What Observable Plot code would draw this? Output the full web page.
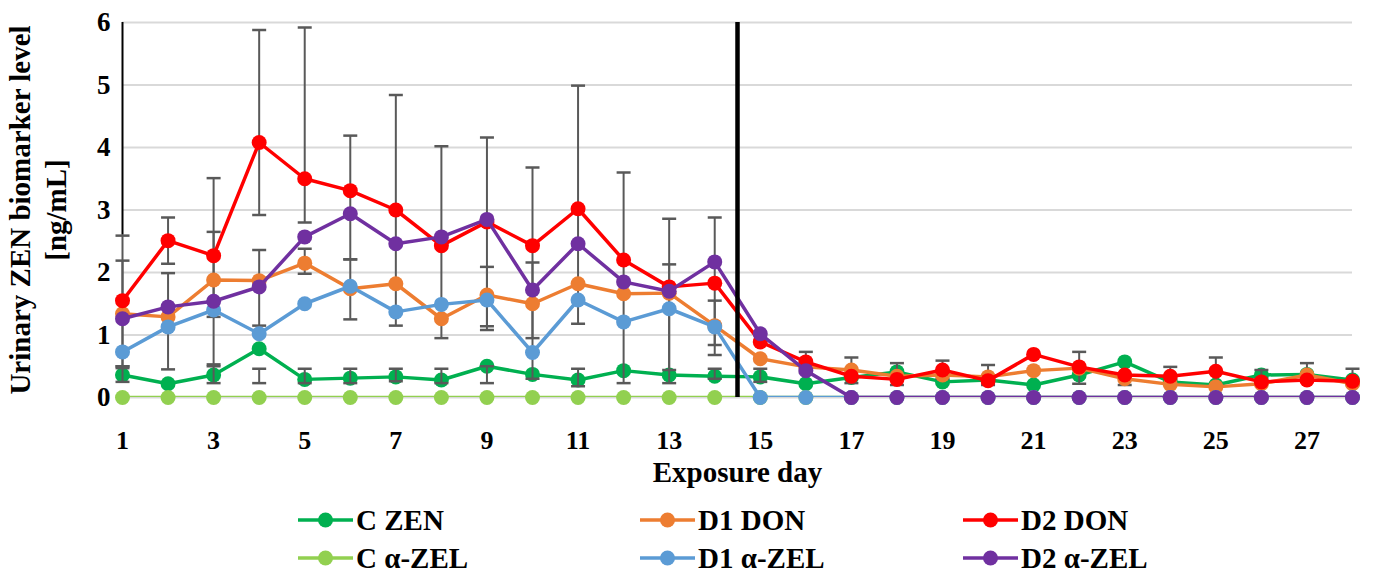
<!DOCTYPE html>
<html>
<head>
<meta charset="utf-8">
<script src="https://cdn.jsdelivr.net/npm/d3@7"></script>
<script src="https://cdn.jsdelivr.net/npm/@observablehq/plot@0.6"></script>
<style>
  body { margin: 0; background: #fff; }
  #wrap { position: relative; width: 1376px; height: 572px; overflow: hidden; font-family: "Liberation Serif", serif; }
  #chart { position: absolute; left: 0; top: 0; }
  .item { position: absolute; display: flex; align-items: center; height: 34px; font-weight: bold; font-size: 29px; color: #000; white-space: nowrap; }
  .item svg { margin-right: 3px; }
</style>
</head>
<body>
<div id="wrap"><div id="chart"></div><div id="legend"></div></div>
<script>
// ---- data ----
const days = [1,2,3,4,5,6,7,8,9,10,11,12,13,14,15,16,17,18,19,20,21,22,23,24,25,26,27,28];
const cZEN    = [0.36,0.22,0.36,0.78,0.29,0.31,0.33,0.28,0.50,0.37,0.28,0.43,0.36,0.34,0.33,0.22,0.32,0.41,0.25,0.28,0.20,0.36,0.57,0.25,0.20,0.36,0.37,0.28];
const d1DON   = [1.34,1.29,1.88,1.87,2.15,1.74,1.82,1.26,1.64,1.50,1.82,1.66,1.67,1.15,0.62,0.49,0.44,0.34,0.36,0.33,0.43,0.47,0.30,0.21,0.17,0.22,0.36,0.22];
const d2DON   = [1.55,2.51,2.27,4.08,3.50,3.31,3.00,2.43,2.81,2.43,3.02,2.20,1.77,1.83,0.89,0.57,0.34,0.29,0.44,0.27,0.69,0.49,0.36,0.34,0.42,0.25,0.28,0.26];
const cAZEL   = [0,0,0,0,0,0,0,0,0,0,0,0,0,0,0,0,0,0,0,0,0,0,0,0,0,0,0,0];
const d1AZEL  = [0.73,1.13,1.40,1.02,1.50,1.78,1.37,1.49,1.56,0.72,1.56,1.21,1.42,1.13,0,0,0,0,0,0,0,0,0,0,0,0,0,0];
const d2AZEL  = [1.26,1.45,1.54,1.77,2.57,2.94,2.46,2.57,2.85,1.72,2.46,1.85,1.70,2.17,1.02,0.43,0,0,0,0,0,0,0,0,0,0,0,0];

const seriesNames  = ["C ZEN","D1 DON","D2 DON","C α-ZEL","D1 α-ZEL","D2 α-ZEL"];
const seriesValues = [cZEN, d1DON, d2DON, cAZEL, d1AZEL, d2AZEL];
const seriesColors = ["#00B050","#ED7D31","#FF0000","#92D050","#5B9BD5","#7030A0"];

// error bars (as drawn): day, low end, high end
const errDay  = [1,1,1, 2,2, 3,3,3, 4,4,4, 5,5,5, 6,6,6, 7,7, 8,8, 9,9,9, 10,10, 11,11, 12, 13,13, 14,14,14, 15,16,17,18,19,20,22,23,24,25,26,27,28];
const errLow  = [0.50,0.50,0.25, 2.14,0.45, 1.29,0.53,0.23, 2.92,1.15,0.23, 2.80,1.98,0.23, 2.21,1.25,0.23, 1.15,0.26, 0.95,0.23, 1.14,1.08,0.23, 0.95,0.30, 1.18,0.18, 0.23, 0.23,0.44, 0.68,0.84,0.30, 0.25,0.40,0.23,0.20,0.30,0.20,0.22,0.20,0.30,0.20,0.30,0.30,0.20];
const errHigh = [2.59,2.19,0.47, 2.88,1.99, 3.51,2.65,0.50, 5.88,2.36,0.46, 5.92,2.38,0.46, 4.19,2.21,0.46, 4.84,0.46, 4.02,0.46, 4.16,2.09,0.50, 3.68,2.16, 4.99,0.46, 3.60, 2.86,2.13, 2.88,1.55,0.46, 0.46,0.73,0.64,0.55,0.59,0.52,0.73,0.32,0.49,0.64,0.44,0.55,0.46];

// vertical reference lines
const boundaryDay = [14.5];
const startLineDay = [1], startLineFrom = [2.6], startLineTo = [6];

const xTicks = [1,3,5,7,9,11,13,15,17,19,21,23,25,27];
const yTicks = [0,1,2,3,4,5,6];

// ---- build tables ----
const rows = seriesNames.map((name, i) => days.map((d, j) => ({series: name, day: d, value: seriesValues[i][j]})));
const errRows = errDay.map((d, i) => ({day: d, lo: errLow[i], hi: errHigh[i]}));
const capRows = errRows.flatMap(e => [{day: e.day, v: e.lo}, {day: e.day, v: e.hi}]);
const startRows = startLineDay.map((d, i) => ({day: d, from: startLineFrom[i], to: startLineTo[i]}));

const hline = { draw(ctx, size) { const w = Math.sqrt(size / Math.PI); ctx.moveTo(-w, 0); ctx.lineTo(w, 0); } };

const seriesMarks = (i) => [
  Plot.line(rows[i], {x: "day", y: "value", stroke: seriesColors[i], strokeWidth: 3.5, clip: true}),
  Plot.dot(rows[i], {x: "day", y: "value", fill: seriesColors[i], r: 7.5, stroke: "none"})
];

const errorMarks = [
  Plot.ruleX(errRows, {x: "day", y1: "lo", y2: "hi", stroke: "#595959", strokeWidth: 2}),
  Plot.dot(capRows, {x: "day", y: "v", symbol: hline, r: 7, stroke: "#595959", strokeWidth: 2.5, fill: "none"})
];

const chart = Plot.plot({
  width: 1376,
  height: 500,
  marginLeft: 122,
  marginRight: 24,
  marginTop: 22,
  marginBottom: 103,
  style: {fontFamily: "'Liberation Serif', serif", background: "#fff", color: "#000"},
  x: {domain: [1, 28]},
  y: {domain: [0, 6]},
  marks: [
    Plot.gridY(yTicks, {stroke: "#d9d9d9", strokeOpacity: 1, strokeWidth: 2}),
    Plot.axisY(yTicks, {tickSize: 0, tickPadding: 12, fontSize: 27, fontWeight: "bold", tickFormat: "d",
      label: "Urinary ZEN biomarker level\n[ng/mL]", labelAnchor: "center", labelOffset: 113, labelArrow: "none"}),
    Plot.axisX(xTicks, {tickSize: 0, tickPadding: 33, fontSize: 26, fontWeight: "bold", tickFormat: "d",
      label: "Exposure day", labelAnchor: "center", labelOffset: 84, labelArrow: "none"}),
    ...seriesMarks(0),
    ...errorMarks,
    ...seriesMarks(1),
    ...seriesMarks(2),
    ...seriesMarks(3),
    ...seriesMarks(4),
    ...seriesMarks(5),
    Plot.ruleX(boundaryDay, {y1: 0, y2: 6, stroke: "#000", strokeWidth: 4.5}),
    Plot.ruleX(startRows, {x: "day", y1: "from", y2: "to", stroke: "#000", strokeWidth: 2})
  ]
});
chart.querySelectorAll("g[aria-label='y-axis label'] text, g[aria-label='x-axis label'] text").forEach(t => {
  t.setAttribute("font-size", "29"); t.setAttribute("font-weight", "bold");
});
chart.querySelectorAll("g[aria-label='y-axis label'] text tspan").forEach((ts, k) => {
  if (k > 0) ts.setAttribute("dy", "1.25em");
});
document.getElementById("chart").appendChild(chart);

// ---- legend ----
const legendCols = [298, 640, 963];
const legendRows = [520, 558];
const legend = document.getElementById("legend");
seriesNames.forEach((name, i) => {
  const item = document.createElement("div");
  item.className = "item";
  item.style.left = legendCols[i % 3] + "px";
  item.style.top = (legendRows[Math.floor(i / 3)] - 17) + "px";
  item.innerHTML = `<svg width="55" height="20"><line x1="0" y1="10" x2="55" y2="10" stroke="${seriesColors[i]}" stroke-width="3.5"/><circle cx="27.5" cy="10" r="7.5" fill="${seriesColors[i]}"/></svg><span>${name}</span>`;
  legend.appendChild(item);
});
</script>
</body>
</html>
